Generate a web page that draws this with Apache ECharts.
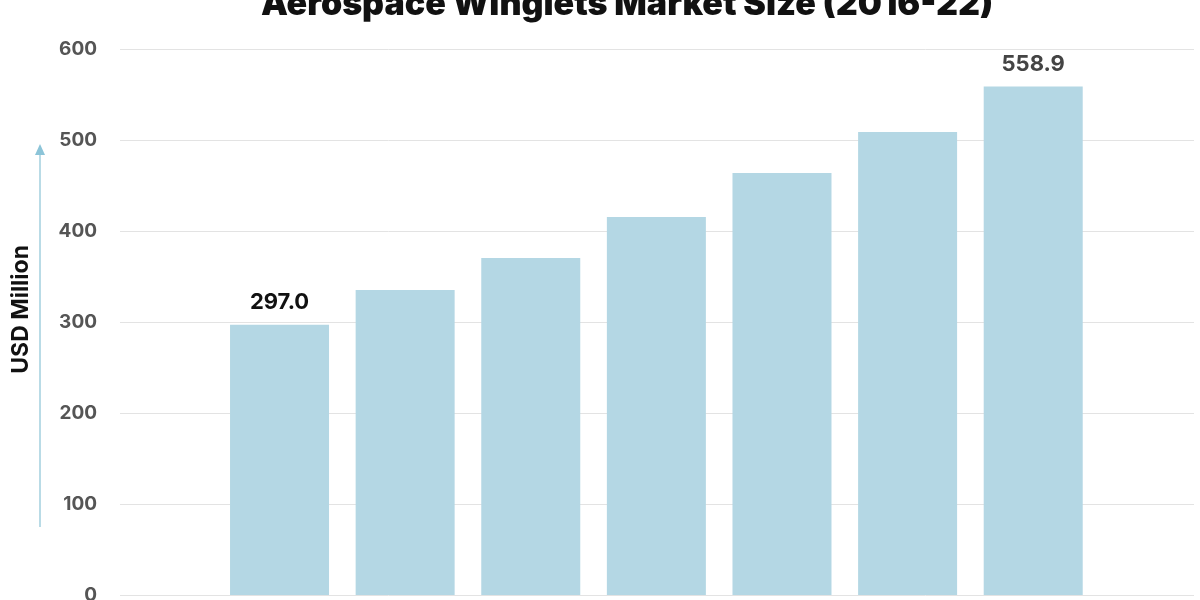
<!DOCTYPE html>
<html>
<head>
    <meta charset="utf-8">
    <title>Aerospace Winglets Market Size</title>
    <script type="text/javascript" src="https://cdn.jsdelivr.net/npm/echarts@6/dist/echarts.min.js"></script>
    <style>
        html, body { margin: 0; padding: 0; background: #fff; }
    </style>
</head>
<body>
<div id="main" style="width: 1200px;height:600px;"></div>
<script type="text/javascript">
    // data
    var years = [2016, 2017, 2018, 2019, 2020, 2021, 2022];
    var marketSize = [297.0, 335.2, 370.3, 415.4, 463.7, 508.8, 558.9];
    var yTicks = [0, 100, 200, 300, 400, 500, 600];

    var font = 'Inter, "Open Sans", sans-serif';

    var barData = years.map(function (y, i) {
        var last = i === years.length - 1;
        return {
            value: [y, marketSize[i]],
            label: {
                show: i === 0 || last,
                color: last ? '#444' : '#111'
            }
        };
    });

    var myChart = echarts.init(document.getElementById('main'));

    var option = {
        animation: false,
        title: {
            text: 'Aerospace Winglets Market Size (2016-22)',
            left: 256,
            top: -17,
            textStyle: {
                fontFamily: font,
                fontSize: 34,
                fontWeight: 900,
                color: '#111'
            }
        },
        grid: {
            left: 120,
            right: 6,
            top: 49,
            bottom: 5,
            outerBoundsMode: 'none'
        },
        xAxis: {
            type: 'value',
            min: 2014.73,
            max: 2023.28,
            axisLine: { show: false },
            axisTick: { show: false },
            axisLabel: { show: false },
            splitLine: { show: false }
        },
        yAxis: {
            type: 'value',
            min: yTicks[0],
            max: yTicks[yTicks.length - 1],
            interval: yTicks[1] - yTicks[0],
            axisLine: { show: false },
            axisTick: { show: false },
            axisLabel: {
                margin: 23,
                fontFamily: font,
                fontSize: 19,
                fontWeight: 'bold',
                color: '#555'
            },
            splitLine: {
                lineStyle: { color: '#e3e3e3', width: 1 }
            }
        },
        graphic: [
            {
                type: 'text',
                left: 10,
                top: 245,
                rotation: Math.PI / 2,
                style: {
                    text: 'USD Million',
                    fontFamily: font,
                    fontSize: 23,
                    fontWeight: 'bold',
                    fill: '#111'
                }
            },
            {
                type: 'line',
                shape: { x1: 40, y1: 527, x2: 40, y2: 152 },
                style: { stroke: '#b9dbe6', lineWidth: 2 }
            },
            {
                type: 'polygon',
                shape: { points: [[35, 155], [45, 155], [40, 144]] },
                style: { fill: '#8cc4d8' }
            }
        ],
        series: [{
            type: 'bar',
            data: barData,
            barWidth: 99,
            itemStyle: { color: '#b4d7e4' },
            label: {
                position: 'top',
                distance: 11,
                fontFamily: font,
                fontSize: 22,
                fontWeight: 'bold',
                formatter: function (p) {
                    return p.value[1].toFixed(1);
                }
            }
        }]
    };

    myChart.setOption(option);
</script>
</body>
</html>
